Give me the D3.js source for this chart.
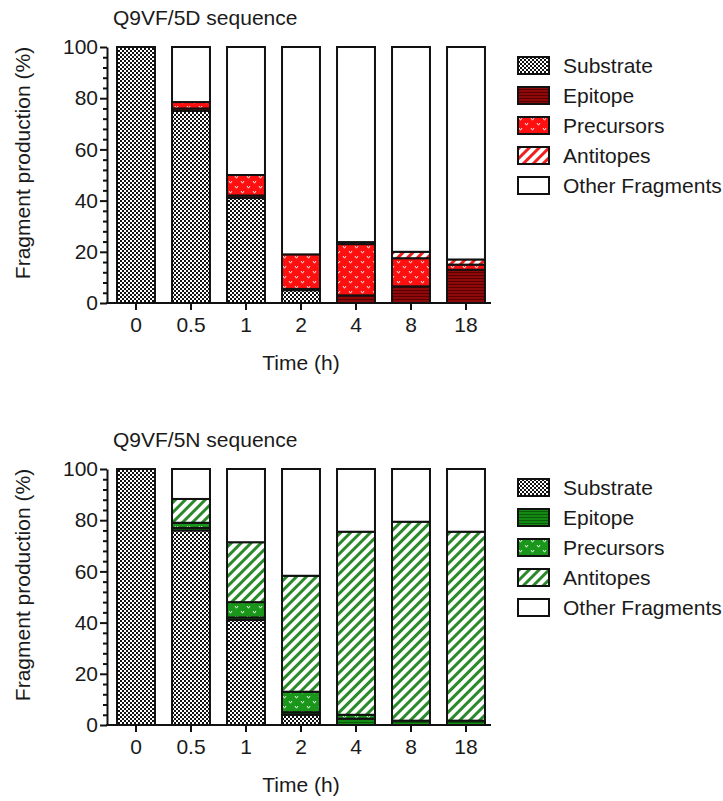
<!DOCTYPE html>
<html>
<head>
<meta charset="utf-8">
<script src="https://cdn.jsdelivr.net/npm/d3@7"></script>
<style>
  body { margin: 0; background: #fff; }
  text { font-family: "Liberation Sans", Arial, sans-serif; fill: #1a1a1a; }
</style>
</head>
<body>
<script>
// time points (h)
const times = ["0", "0.5", "1", "2", "4", "8", "18"];
const keys = ["Substrate", "Epitope", "Precursors", "Antitopes", "Other Fragments"];

// Q9VF/5D sequence (%)
const substrate5D = [100, 75, 41, 5, 0, 0, 0];
const epitope5D = [0, 1, 1, 0.5, 3, 6.5, 13];
const precursors5D = [0, 2.5, 8, 13.5, 20, 11, 2];
const antitopes5D = [0, 0, 0, 0, 0.8, 2.5, 2];
const other5D = [0, 21.5, 50, 81, 76.2, 80, 83];

// Q9VF/5N sequence (%)
const substrate5N = [100, 76, 41, 4, 0, 0, 0];
const epitope5N = [0, 1, 1, 1, 2.5, 1.7, 1.7];
const precursors5N = [0, 2, 6, 8, 1.5, 0, 0];
const antitopes5N = [0, 9.3, 23.4, 45.3, 71.5, 77.7, 73.8];
const other5N = [0, 11.7, 28.6, 41.7, 24.5, 20.6, 24.5];

const yTicks = [0, 20, 40, 60, 80, 100];

const svg = d3.select("body").append("svg")
  .attr("width", 723)
  .attr("height", 801);
const defs = svg.append("defs");

// checkerboard for substrate
const chk = defs.append("pattern")
  .attr("id", "checker")
  .attr("patternUnits", "userSpaceOnUse")
  .attr("width", 4).attr("height", 4);
chk.append("rect").attr("width", 4).attr("height", 4).attr("fill", "#fff");
chk.append("rect").attr("width", 2).attr("height", 2).attr("fill", "#111");
chk.append("rect").attr("x", 2).attr("y", 2).attr("width", 2).attr("height", 2).attr("fill", "#111");

function makePatterns(id, epiBase, epiLine, precBase, stripe) {
  const epi = defs.append("pattern")
    .attr("id", "epi-" + id)
    .attr("patternUnits", "userSpaceOnUse")
    .attr("width", 6).attr("height", 3);
  epi.append("rect").attr("width", 6).attr("height", 3).attr("fill", epiBase);
  epi.append("rect").attr("y", 2).attr("width", 6).attr("height", 1).attr("fill", epiLine);

  const prec = defs.append("pattern")
    .attr("id", "prec-" + id)
    .attr("patternUnits", "userSpaceOnUse")
    .attr("width", 12).attr("height", 10);
  prec.append("rect").attr("width", 12).attr("height", 10).attr("fill", precBase);
  [[1, 1], [7, 6]].forEach(([px, py]) => {
    prec.append("path")
      .attr("d", `M${px},${py} l1.5,2.2 l1.5,-2.2`)
      .attr("fill", "none")
      .attr("stroke", "#fff")
      .attr("stroke-width", 0.9);
  });

  const anti = defs.append("pattern")
    .attr("id", "anti-" + id)
    .attr("patternUnits", "userSpaceOnUse")
    .attr("width", 7).attr("height", 7)
    .attr("patternTransform", "rotate(45)");
  anti.append("rect").attr("width", 7).attr("height", 7).attr("fill", "#fff");
  anti.append("rect").attr("width", 3).attr("height", 7).attr("fill", stripe);
}

makePatterns("red", "#8e0a0a", "#5a0000", "#ff1010", "#f02020");
makePatterns("green", "#148a14", "#0a5a0a", "#1a961a", "#2a8a2a");

const panels = [
  {
    title: "Q9VF/5D sequence", off: 0, theme: "red",
    series: [substrate5D, epitope5D, precursors5D, antitopes5D, other5D],
  },
  {
    title: "Q9VF/5N sequence", off: 422, theme: "green",
    series: [substrate5N, epitope5N, precursors5N, antitopes5N, other5N],
  },
];

const x = d3.scaleBand()
  .domain(times)
  .range([108.5, 493.5])
  .paddingInner(0.31)
  .paddingOuter(0.155);

const FONT = 21;

panels.forEach((p) => {
  const g = svg.append("g");
  const fills = [
    "url(#checker)",
    `url(#epi-${p.theme})`,
    `url(#prec-${p.theme})`,
    `url(#anti-${p.theme})`,
    "#fff",
  ];

  const y = d3.scaleLinear().domain([0, 100]).range([303 + p.off, 47 + p.off]);

  // table for the stack
  const table = times.map((t, i) => {
    const row = { time: t };
    keys.forEach((k, j) => { row[k] = p.series[j][i]; });
    return row;
  });
  const stacked = d3.stack().keys(keys)(table);

  stacked.forEach((layer, j) => {
    g.append("g")
      .selectAll("rect")
      .data(layer.filter((d) => d[1] - d[0] > 0))
      .enter().append("rect")
      .attr("x", (d) => x(d.data.time))
      .attr("width", x.bandwidth())
      .attr("y", (d) => y(d[1]))
      .attr("height", (d) => y(d[0]) - y(d[1]))
      .attr("fill", fills[j])
      .attr("stroke", "#111")
      .attr("stroke-width", 2);
  });

  // y axis: minor then major ticks
  const minor = d3.range(0, 101, 4).filter((v) => v % 20 !== 0);
  g.append("g")
    .attr("transform", "translate(107,0)")
    .call(d3.axisLeft(y).tickValues(minor).tickSize(4).tickFormat(""))
    .call((a) => a.select(".domain").remove())
    .call((a) => a.selectAll("line").attr("stroke", "#111").attr("stroke-width", 2));

  g.append("g")
    .attr("transform", "translate(107,0)")
    .call(d3.axisLeft(y).tickValues(yTicks).tickSize(7).tickSizeOuter(0).tickPadding(2))
    .call((a) => a.select(".domain").attr("stroke", "#111").attr("stroke-width", 2))
    .call((a) => a.selectAll("line").attr("stroke", "#111").attr("stroke-width", 2))
    .call((a) => a.selectAll("text")
      .attr("font-size", FONT)
      .attr("fill", "#1a1a1a")
      .style("font-family", "Liberation Sans, Arial, sans-serif"));

  // x axis
  g.append("g")
    .attr("transform", `translate(0,${y(0)})`)
    .call(d3.axisBottom(x).tickSize(7).tickSizeOuter(0).tickPadding(7))
    .call((a) => a.select(".domain").remove())
    .call((a) => a.selectAll("line").attr("stroke", "#111").attr("stroke-width", 2))
    .call((a) => a.selectAll("text")
      .attr("font-size", FONT)
      .attr("fill", "#1a1a1a")
      .style("font-family", "Liberation Sans, Arial, sans-serif"));

  g.append("line")
    .attr("x1", 106).attr("x2", 491)
    .attr("y1", y(0)).attr("y2", y(0))
    .attr("stroke", "#111")
    .attr("stroke-width", 2);

  // titles
  g.append("text")
    .attr("x", 113)
    .attr("y", 25 + p.off)
    .attr("font-size", FONT)
    .text(p.title);

  g.append("text")
    .attr("x", 301)
    .attr("y", 370 + p.off)
    .attr("text-anchor", "middle")
    .attr("font-size", FONT)
    .text("Time (h)");

  g.append("text")
    .attr("transform", `translate(30,${163 + p.off}) rotate(-90)`)
    .attr("text-anchor", "middle")
    .attr("font-size", FONT)
    .text("Fragment production (%)");

  // legend
  const leg = g.append("g")
    .selectAll("g")
    .data(keys)
    .enter().append("g")
    .attr("transform", (d, i) => `translate(518,${57 + p.off + i * 30})`);

  leg.append("rect")
    .attr("width", 31)
    .attr("height", 17)
    .attr("fill", (d, i) => fills[i])
    .attr("stroke", "#111")
    .attr("stroke-width", 2);

  leg.append("text")
    .attr("x", 45)
    .attr("y", 16)
    .attr("font-size", FONT)
    .text((d) => d);
});
</script>
</body>
</html>
